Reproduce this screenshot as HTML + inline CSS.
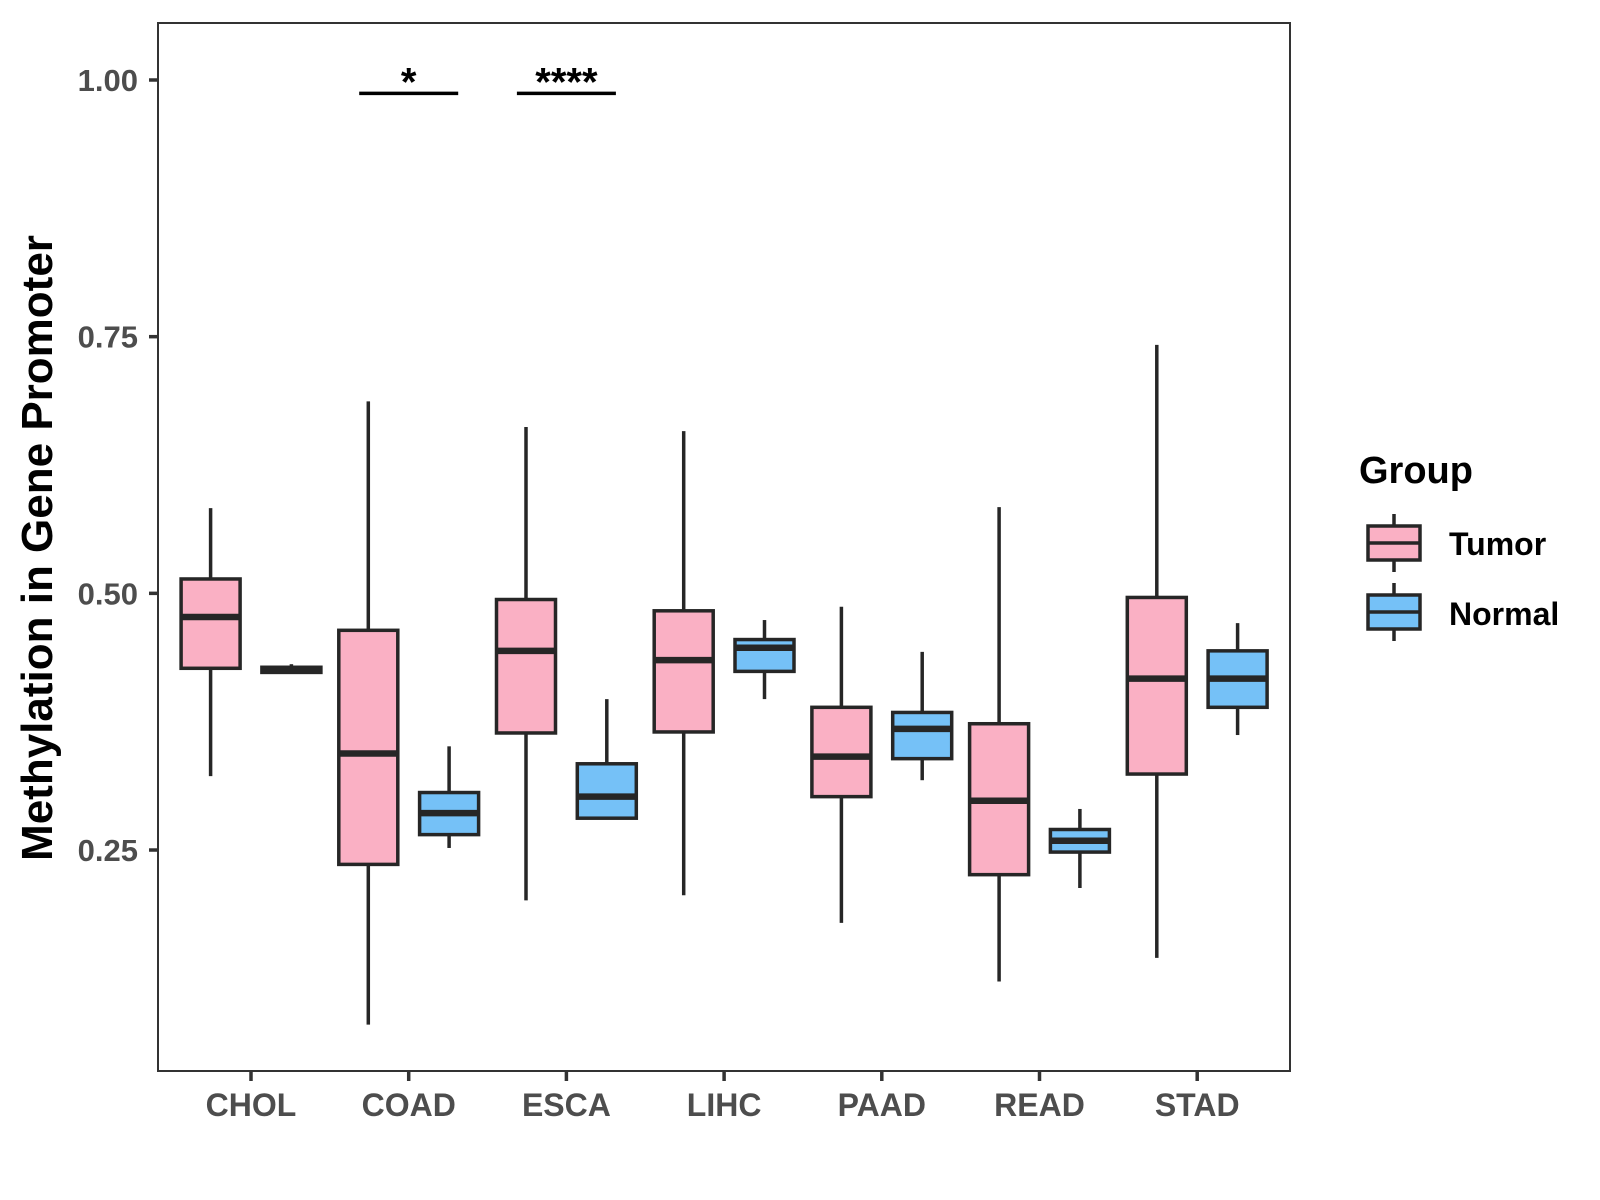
<!DOCTYPE html>
<html><head><meta charset="utf-8"><style>
html,body{margin:0;padding:0;background:#fff;}
svg{display:block;font-family:"Liberation Sans",Arial,sans-serif;font-weight:bold;}
</style></head><body>
<svg id="chart" width="1600" height="1200" viewBox="0 0 1600 1200" xmlns="http://www.w3.org/2000/svg">
<rect x="0" y="0" width="1600" height="1200" fill="#fff"/>
<g id="plot"></g>
<rect x="158" y="23" width="1132" height="1048" fill="none" stroke="#333" stroke-width="2"/>
<text transform="translate(52,548) rotate(-90)" text-anchor="middle" font-size="44" fill="#000">Methylation in Gene Promoter</text>
<g>
<text x="1359" y="483" font-size="38" fill="#000">Group</text>
<g>
<line x1="1394" y1="514" x2="1394" y2="572" stroke="#262626" stroke-width="3.5"/>
<rect x="1368" y="526" width="52" height="34" fill="#FAB0C4" stroke="#262626" stroke-width="3.5"/>
<line x1="1368" y1="543" x2="1420" y2="543" stroke="#262626" stroke-width="3.5"/>
<text x="1449" y="555" font-size="32" fill="#000">Tumor</text>
</g>
<g>
<line x1="1394" y1="583" x2="1394" y2="641" stroke="#262626" stroke-width="3.5"/>
<rect x="1368" y="595" width="52" height="34" fill="#75C1F7" stroke="#262626" stroke-width="3.5"/>
<line x1="1368" y1="612" x2="1420" y2="612" stroke="#262626" stroke-width="3.5"/>
<text x="1449" y="625" font-size="32" fill="#000">Normal</text>
</g>
</g>
</svg>
<script>
const categories = ["CHOL","COAD","ESCA","LIHC","PAAD","READ","STAD"];
const groups = ["Tumor","Normal"];
// [lowerWhisker, q1, median, q3, upperWhisker]
const tumorStats = [
  [0.322,0.427,0.477,0.514,0.583],
  [0.080,0.236,0.344,0.464,0.687],
  [0.201,0.364,0.444,0.494,0.662],
  [0.206,0.365,0.435,0.483,0.658],
  [0.179,0.302,0.341,0.389,0.487],
  [0.122,0.226,0.298,0.373,0.584],
  [0.145,0.324,0.417,0.496,0.742]
];
const normalStats = [
  [0.422,0.423,0.425,0.428,0.431],
  [0.252,0.265,0.286,0.306,0.351],
  [0.280,0.281,0.302,0.334,0.397],
  [0.397,0.424,0.447,0.455,0.474],
  [0.318,0.339,0.368,0.384,0.443],
  [0.213,0.248,0.259,0.270,0.290],
  [0.362,0.389,0.417,0.444,0.471]
];
const yTicks = [0.25,0.50,0.75,1.00];
const yTickLabels = ["0.25","0.50","0.75","1.00"];
const sigCategories = ["COAD","ESCA"];
const sigLabels = ["*","****"];
const sigLevel = 0.987;

const NS="http://www.w3.org/2000/svg";
const plot=document.getElementById('plot');
function yScale(v){return 80+(1-v)*1026.7;}
function xScale(i){return 251+i*157.7;}
const DODGE=40.4, BW=59;
function mk(tag,attrs,parent){const e=document.createElementNS(NS,tag);for(const k in attrs)e.setAttribute(k,attrs[k]);(parent||plot).appendChild(e);return e;}

yTicks.forEach((t,i)=>{
  const y=yScale(t);
  const ln=mk('line',{x1:149,x2:158,y1:y,y2:y,stroke:'#333','stroke-width':3.5});
  
  
  const tx=mk('text',{x:138,y:y+11,'text-anchor':'end','font-size':31,fill:'#4D4D4D'});
  tx.textContent=yTickLabels[i];
  
  
});
categories.forEach((c,i)=>{
  const x=xScale(i);
  const ln=mk('line',{x1:x,x2:x,y1:1071,y2:1081,stroke:'#333','stroke-width':3.5});
  
  
  const tx=mk('text',{x:x,y:1116,'text-anchor':'middle','font-size':32,fill:'#4D4D4D'});
  tx.textContent=c;
  
  
});
function drawBox(stats,cx,fill,name){
  const g=mk('g',{});
  
  
  const [lo,q1,md,q3,hi]=stats;
  mk('line',{x1:cx,x2:cx,y1:yScale(hi),y2:yScale(q3),stroke:'#262626','stroke-width':3.5},g);
  mk('line',{x1:cx,x2:cx,y1:yScale(q1),y2:yScale(lo),stroke:'#262626','stroke-width':3.5},g);
  mk('rect',{x:cx-BW/2,y:yScale(q3),width:BW,height:Math.max(yScale(q1)-yScale(q3),1),fill:fill,stroke:'#262626','stroke-width':3.5},g);
  mk('line',{x1:cx-BW/2,x2:cx+BW/2,y1:yScale(md),y2:yScale(md),stroke:'#262626','stroke-width':6.5},g);
}
categories.forEach((c,i)=>{
  drawBox(tumorStats[i],xScale(i)-DODGE,'#FAB0C4','box-tumor-'+c.toLowerCase());
  drawBox(normalStats[i],xScale(i)+DODGE,'#75C1F7','box-normal-'+c.toLowerCase());
});
sigCategories.forEach((c,k)=>{
  const i=categories.indexOf(c);
  const x=xScale(i), y=yScale(sigLevel);
  const ln=mk('line',{x1:x-49.5,x2:x+49.5,y1:y,y2:y,stroke:'#000','stroke-width':3.5});
  
  
  const tx=mk('text',{x:x,y:y+2,'text-anchor':'middle','font-size':40,fill:'#000'});
  tx.textContent=sigLabels[k];
  
  
});
</script>
</body></html>
